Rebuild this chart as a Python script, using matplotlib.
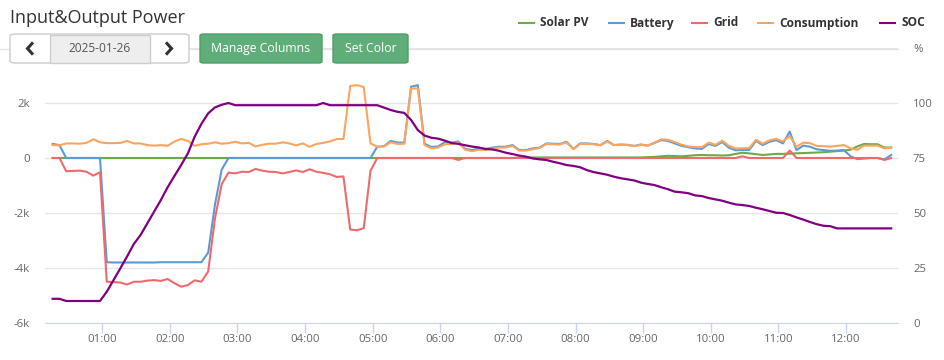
import matplotlib.pyplot as plt
from matplotlib.patches import FancyBboxPatch, Rectangle
from matplotlib.lines import Line2D

plt.rcParams['font.family'] = ['Open Sans', 'DejaVu Sans']

# samples every 6 minutes starting at 00:16
START_MIN = 16
STEP_MIN = 6

SOLAR_PV = [
    0, 0, 0, 0, 0, 0, 0, 0, 0, 0, 0, 0, 0, 0, 0, 0, 0, 0, 0, 0,
    0, 0, 0, 0, 0, 0, 0, 0, 0, 0, 0, 0, 0, 0, 0, 0, 0, 0, 0, 0,
    0, 0, 0, 0, 0, 0, 0, 0, 0, 0, 0, 0, 0, 0, 0, 0, 0, 0, 0, 0,
    0, 0, 0, 0, 0, 0, 0, 0, 0, 20, 20, 20, 20, 20, 20, 20, 20, 20, 20, 20,
    20, 20, 20, 20, 20, 20, 20, 20, 30, 40, 60, 80, 70, 60, 80, 100, 110, 100, 100, 90,
    100, 150, 190, 170, 140, 110, 130, 150, 150, 160, 170, 180, 190, 200, 210, 230, 250, 270, 300, 420,
    510, 500, 500, 380, 380,
]

BATTERY = [
    510, 470, 0, 0, 0, 0, 0, 0,
    -3790, -3800, -3800, -3800, -3800, -3800, -3800, -3800, -3790, -3790, -3790, -3790, -3790, -3790, -3790,
    -3440, -1700, -420, 0,
    0, 0, 0, 0, 0, 0, 0, 0, 0, 0, 0, 0, 0, 0, 0, 0, 0, 0, 0, 0, 0,
    410, 430, 620, 560, 560, 2590, 2650, 520, 400, 420, 580, 560, 600, 330,
    290, 340, 330, 375, 410, 410, 470, 290, 290, 350, 375, 530, 520, 510, 590, 330,
    530, 530, 510, 470, 620, 470, 490, 480, 440, 490, 450, 550, 650, 620, 530,
    440, 390, 350, 330, 510, 440, 580, 375, 280, 290, 290, 620, 470, 590, 650,
    530, 960, 290, 450, 410, 315, 290, 260, 270, 290, 60, -40, -20, 0, 0, -50, 110,
]

GRID = [
    0, 0, -480, -470, -460, -500, -640, -520,
    -4500, -4510, -4530, -4600, -4500, -4500, -4460, -4440, -4470, -4400, -4550, -4680, -4620, -4450, -4500,
    -4130, -2200, -950, -530,
    -560, -500, -510, -400, -460, -500, -510, -560, -510, -450, -510, -410, -500, -540, -590, -690, -670,
    -2600, -2630, -2550, -470,
    0, 0, 0, 0, 0, 0, 0, 0, 0, 0, 0, 0, -70, 0,
    0, 0, 0, 0, 0, 0, 0, 0, 0, 0, 0, 0, 0, 0, 0, 0,
    0, 0, 0, 0, 0, 0, 0, 0, 0, 0, 0, 0, 0, 0, 0,
    0, 0, 0, 0, 0, 0, 0, 0, 0, 60, 0, 0, 0, 0, 0,
    0, 270, 0, 0, 0, 0, 0, 0, 0, 0, 0, 0, 0, 0, 0, -70, 0,
]

CONSUMPTION = [
    470, 460, 530, 530, 520, 550, 680, 570,
    540, 540, 550, 620, 530, 530, 470, 450, 470, 440, 600, 690, 620, 440, 500,
    520, 570, 520, 540,
    590, 530, 550, 420, 480, 520, 520, 570, 530, 460, 530, 410, 510, 550, 600, 690, 690,
    2620, 2650, 2580, 530,
    410, 420, 570, 510, 520, 2530, 2530, 470, 350, 380, 500, 510, 560, 300,
    250, 300, 290, 340, 380, 380, 440, 270, 270, 320, 360, 510, 500, 490, 570, 320,
    510, 510, 500, 460, 600, 470, 480, 470, 430, 480, 450, 560, 680, 660, 580,
    480, 420, 400, 390, 560, 480, 630, 440, 350, 350, 360, 660, 520, 640, 700,
    600, 800, 410, 560, 540, 440, 430, 410, 440, 470, 350, 300, 450, 450, 450, 350, 380,
]

SOC = [
    11, 11, 10, 10, 10, 10, 10, 10,
    14.2, 19.5, 24.8, 30.2, 35.9, 40, 45.3, 50.6, 55.9, 61.7, 66.8, 71.8, 77.1, 84.7, 90.5,
    95.3, 98, 99.2, 100,
    99, 99, 99, 99, 99, 99, 99, 99, 99, 99, 99, 99, 99, 100, 99, 99, 99, 99, 99, 99, 99,
    99, 97.9, 96.8, 96, 95.5, 92.3, 87.7, 85.2, 84.2, 83.8, 82.9, 81.8, 81.4, 80.8,
    80.2, 79.8, 79.1, 78.9, 78.3, 77.4, 76.8, 76.1, 75.6, 74.8, 74.4, 74.1, 73.3, 72.6, 71.8,
    71.4, 70.8, 69.5, 68.6, 68, 67.4, 66.5, 65.8, 65.3, 64.8, 63.8, 63.2, 62.7, 61.7, 60.8, 59.7,
    59.4, 59, 58, 57.7, 56.8, 56.2, 55.6, 54.7, 53.9, 53.6, 53.2, 52.4, 51.7, 50.9, 50.1,
    50, 49.1, 48, 47, 45.9, 44.9, 44.2, 44, 43, 43, 43, 43, 43, 43, 43, 43, 43,
]

HOUR_LABELS = ['01:00', '02:00', '03:00', '04:00', '05:00', '06:00',
               '07:00', '08:00', '09:00', '10:00', '11:00', '12:00']
POWER_TICKS = [-6000, -4000, -2000, 0, 2000, 4000]
POWER_LABELS = ['-6k', '-4k', '-2k', '0', '2k', '']
SOC_TICKS = [0, 25, 50, 75, 100, 125]
SOC_LABELS = ['0', '25', '50', '75', '100', '%']

SERIES = [
    ('Solar PV', SOLAR_PV, '#6aab46'),
    ('Battery', BATTERY, '#5b9bd5'),
    ('Grid', GRID, '#f06a6b'),
    ('Consumption', CONSUMPTION, '#fea45e'),
]
SOC_COLOR = '#800080'

minutes = [START_MIN + STEP_MIN * i for i in range(len(SOC))]

W, H = 944, 360


def fx(x):
    return x / W


def fy(y):
    return 1 - y / H


fig = plt.figure(figsize=(W / 100, H / 100), dpi=100)
ax = fig.add_axes([fx(45), fy(323), (897.7 - 45) / W, (323 - 48) / H])

for name, vals, col in SERIES:
    ax.plot(minutes, vals, color=col, lw=1.5, label=name)

ax.set_xlim(9.2, 765.8)
ax.set_ylim(-6000, 4000)
ax.set_yticks(POWER_TICKS)
ax.set_yticklabels(POWER_LABELS)
ax.set_xticks([60 * (h + 1) for h in range(len(HOUR_LABELS))])
ax.set_xticklabels(HOUR_LABELS)
ax.grid(axis='y', color='#e6e6e6', lw=1)
ax.set_axisbelow(True)
for s in ['top', 'left', 'right']:
    ax.spines[s].set_visible(False)
ax.spines['bottom'].set_color('#ccd6eb')
ax.tick_params(axis='x', length=7, width=1, color='#ccd6eb', pad=1,
               labelsize=8.2, labelcolor='#666666')
ax.tick_params(axis='y', length=0, pad=11, labelsize=8.2, labelcolor='#666666')

ax2 = ax.twinx()
ax2.plot(minutes, SOC, color=SOC_COLOR, lw=1.6, label='SOC')
ax2.set_ylim(0, 125)
ax2.set_yticks(SOC_TICKS)
ax2.set_yticklabels(SOC_LABELS)
ax2.tick_params(axis='y', length=0, pad=11, labelsize=8.2, labelcolor='#666666')
for s in ['top', 'left', 'right', 'bottom']:
    ax2.spines[s].set_visible(False)

# top gridline (4k) on the plot edge, runs behind the controls
fig.add_artist(Line2D([fx(0), fx(898)], [fy(48.5), fy(48.5)], color='#e3e3e3',
                      lw=0.9, transform=fig.transFigure, zorder=1))

# title
fig.text(fx(10), fy(18), 'Input&Output Power', fontsize=13, color='#333333',
         va='center', ha='left')

# legend
legend_items = [(519, 'Solar PV', '#6aab46'), (609, 'Battery', '#5b9bd5'),
                (692, 'Grid', '#f06a6b'), (758, 'Consumption', '#fea45e'),
                (880, 'SOC', SOC_COLOR)]
for x0, name, col in legend_items:
    fig.add_artist(Line2D([fx(x0), fx(x0 + 15)], [fy(23), fy(23)], color=col,
                          lw=1.5, transform=fig.transFigure))
    fig.text(fx(x0 + 21), fy(23), name, fontsize=8.6, fontweight='bold',
             color='#333333', va='center', ha='left')

# date picker
fig.add_artist(FancyBboxPatch((fx(10), fy(63)), fx(179), 29 / H,
                              boxstyle='round,pad=0,rounding_size=0.006',
                              fc='white', ec='#cccccc', lw=1,
                              transform=fig.transFigure, zorder=3))
fig.add_artist(Rectangle((fx(50), fy(62.5)), fx(100), 28 / H, fc='#eeeeee',
                         ec='#cccccc', lw=1, transform=fig.transFigure, zorder=4))
fig.text(fx(100), fy(48.5), '2025-01-26', fontsize=8.6, color='#555555',
         ha='center', va='center', zorder=5)
for pts in ([(32, 43.5), (27.5, 48.5), (32, 53.5)], [(167, 43.5), (171.5, 48.5), (167, 53.5)]):
    fig.add_artist(Line2D([fx(p[0]) for p in pts], [fy(p[1]) for p in pts],
                          color='#333333', lw=2.2, solid_joinstyle='miter',
                          transform=fig.transFigure, zorder=5))

# buttons
for x0, w, label in [(200, 122, 'Manage Columns'), (333, 75, 'Set Color')]:
    fig.add_artist(FancyBboxPatch((fx(x0), fy(63)), fx(w), 29 / H,
                                  boxstyle='round,pad=0,rounding_size=0.004',
                                  fc='#5fae79', ec='#4e9f69', lw=1,
                                  transform=fig.transFigure, zorder=3))
    fig.text(fx(x0 + w / 2), fy(48.5), label, fontsize=8.8, color='white',
             ha='center', va='center', zorder=5)

fig.savefig('out.png', dpi=100)
